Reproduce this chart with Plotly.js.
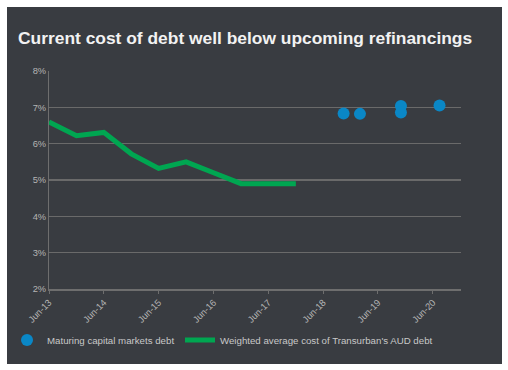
<!DOCTYPE html>
<html>
<head>
<meta charset="utf-8">
<script src="https://cdn.plot.ly/plotly-3.0.1.min.js"></script>
<style>
  html, body { margin: 0; padding: 0; background: #ffffff; width: 508px; height: 370px; overflow: hidden; }
  #chart { position: absolute; left: 7px; top: 7px; width: 495px; height: 357px; }
</style>
</head>
<body>
<div id="chart"></div>
<script>
// Weighted average cost of Transurban's AUD debt (%)
const avgDates = ['2013-06-01','2013-12-01','2014-06-01','2014-12-01','2015-06-01','2015-12-01','2016-06-01','2016-12-01','2017-06-01','2017-12-01'];
const avgCost  = [6.6, 6.22, 6.31, 5.72, 5.32, 5.5, 5.2, 4.9, 4.9, 4.9];

// Maturing capital markets debt (%)
const maturingDates = ['2018-10-15','2019-02-01','2019-11-01','2019-11-01','2020-07-15'];
const maturingCost  = [6.83, 6.82, 7.04, 6.86, 7.05];

const title = 'Current cost of debt well below upcoming refinancings';
const yTickVals = [2, 3, 4, 5, 6, 7, 8];
const yTickText = ['2%', '3%', '4%', '5%', '6%', '7%', '8%'];

const FONT = 'Liberation Sans, Arial, sans-serif';

const traces = [
  {
    x: maturingDates, y: maturingCost,
    type: 'scatter', mode: 'markers',
    name: 'Maturing capital markets debt',
    marker: { color: '#0a87c6', size: 12 },
    legend: 'legend'
  },
  {
    x: avgDates, y: avgCost,
    type: 'scatter', mode: 'lines',
    name: "Weighted average cost of Transurban's AUD debt",
    line: { color: '#00a651', width: 5 },
    legend: 'legend2'
  }
];

const legendBase = {
  orientation: 'h',
  xref: 'container', xanchor: 'left',
  yref: 'container', y: 1 - 333/357, yanchor: 'middle',
  font: { family: FONT, size: 9.7, color: '#c8c8c8' },
  bgcolor: 'rgba(0,0,0,0)',
  itemwidth: 30
};

const layout = {
  width: 495, height: 357,
  paper_bgcolor: '#393c41',
  plot_bgcolor: '#393c41',
  margin: { l: 42, r: 41, t: 64, b: 75 },
  title: {
    text: '<b>' + title + '</b>',
    xref: 'container', x: 11/495, xanchor: 'left',
    yref: 'container', y: 1 - 31/357, yanchor: 'middle',
    font: { family: FONT, size: 17.4, color: '#f2f2f2' }
  },
  showlegend: true,
  legend: Object.assign({}, legendBase, { x: 0 }),
  legend2: Object.assign({}, legendBase, { x: 173/495 }),
  xaxis: {
    type: 'date',
    range: ['2013-06-01', '2020-12-05'],
    tick0: '2013-06-01', dtick: 'M12',
    tickformat: '%b-%y',
    tickangle: -45,
    tickfont: { family: FONT, size: 9.3, color: '#b4b4b4' },
    showgrid: false,
    showline: true, linecolor: '#6e6e6e', linewidth: 1.5,
    ticks: 'outside', ticklen: 3, tickcolor: '#6e6e6e',
    zeroline: false, fixedrange: true, automargin: false
  },
  yaxis: {
    range: [2, 8],
    tickvals: yTickVals, ticktext: yTickText,
    tickfont: { family: FONT, size: 9.3, color: '#b4b4b4' },
    showgrid: true, gridcolor: '#6a6a6a', gridwidth: 1.2,
    showline: true, linecolor: '#6e6e6e', linewidth: 1,
    ticks: '', zeroline: false, fixedrange: true, automargin: false
  }
};

Plotly.newPlot('chart', traces, layout, { displayModeBar: false, staticPlot: true });
</script>
</body>
</html>
